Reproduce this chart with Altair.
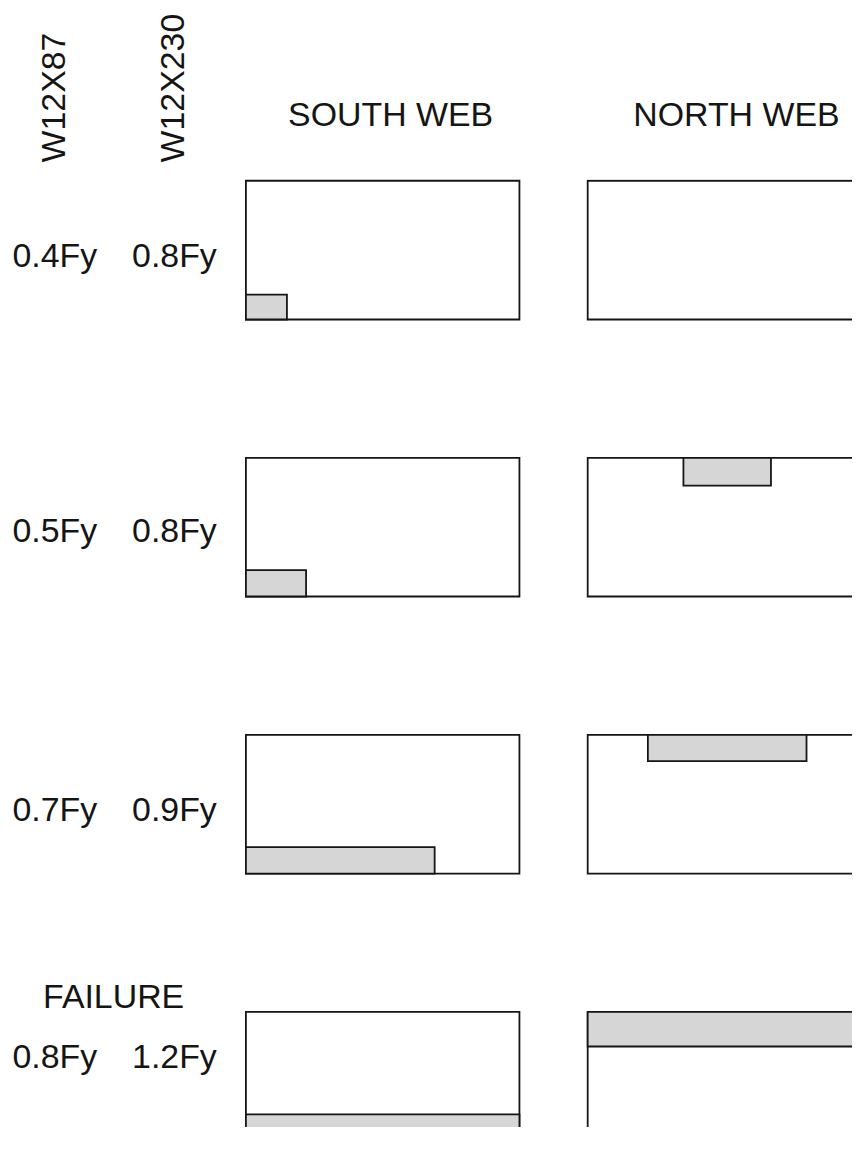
import altair as alt
import pandas as pd

# ---------------- data ----------------
sections = ["W12X87", "W12X230"]
webs = ["SOUTH WEB", "NORTH WEB"]
w12x87_stress = ["0.4Fy", "0.5Fy", "0.7Fy", "0.8Fy"]
w12x230_stress = ["0.8Fy", "0.8Fy", "0.9Fy", "1.2Fy"]
stage_note = ["", "", "", "FAILURE"]

# yielded zones, as fractions of the web width (x, from left) and depth (d, from top)
south_x0 = [0.0, 0.0, 0.0, 0.0]
south_x1 = [0.15, 0.22, 0.69, 1.0]
south_d0 = [0.82, 0.81, 0.81, 0.74]
south_d1 = [1.0, 1.0, 1.0, 1.0]
north_x0 = [None, 0.35, 0.22, 0.0]
north_x1 = [None, 0.67, 0.80, 1.0]
north_d0 = [None, 0.0, 0.0, 0.0]
north_d1 = [None, 0.20, 0.19, 0.25]

# web outline (normalised extents)
web_x = [0.0, 1.0]
web_d = [0.0, 1.0]

# ---------------- tables ----------------
rows = []
for i in range(4):
    rows.append({"row": i, "web": "SOUTH WEB", "x0": south_x0[i], "x1": south_x1[i],
                 "d0": south_d0[i], "d1": south_d1[i]})
    if north_x0[i] is not None:
        rows.append({"row": i, "web": "NORTH WEB", "x0": north_x0[i], "x1": north_x1[i],
                     "d0": north_d0[i], "d1": north_d1[i]})
zones = pd.DataFrame(rows)
outline = pd.DataFrame({"x0": [web_x[0]], "x1": [web_x[1]], "d0": [web_d[0]], "d1": [web_d[1]]})

# ---------------- layout / style ----------------
FONT = "Liberation Sans"
FS = 34
INK = "#151515"
SHADE = "#d6d6d6"
SW = 1.8
GAP = 18                      # column spacing
LABEL_W = 218
BOX_W = 280                   # pixel span of the padded [0,1] web width
SOUTH_W = BOX_W + 45          # extra room to the right of the south web
NORTH_W = 268
ROW_GAP = 136
HEADER_H = 34                 # header row; text drawn below into the gap
ROW_H = [142, 142, 142, 117]  # last row is cut off at the page bottom
PAD = 0.01
UNIT_PX = 142 / (1 + 2 * PAD)
LABEL_Y = [88, 86, 88, 58]


def x_scale(web):
    w = SOUTH_W if web == "SOUTH WEB" else NORTH_W
    return alt.Scale(domain=[-PAD, -PAD + w * (1 + 2 * PAD) / BOX_W], nice=False, zero=False)


def y_scale(i):
    return alt.Scale(domain=[-PAD, -PAD + ROW_H[i] / UNIT_PX], reverse=True, nice=False, zero=False)


def web_panel(i, web):
    clip = (web == "NORTH WEB") or (i == 3)
    xs, ys = x_scale(web), y_scale(i)
    box = alt.Chart(outline).mark_rect(
        fill="white", stroke=INK, strokeWidth=SW, clip=clip
    ).encode(
        x=alt.X("x0:Q", scale=xs, axis=None), x2="x1:Q",
        y=alt.Y("d0:Q", scale=ys, axis=None), y2="d1:Q",
    )
    zone = alt.Chart(zones).transform_filter(
        (alt.datum.row == i) & (alt.datum.web == web)
    ).mark_rect(
        fill=SHADE, stroke=INK, strokeWidth=SW, clip=clip
    ).encode(
        x=alt.X("x0:Q", scale=xs, axis=None), x2="x1:Q",
        y=alt.Y("d0:Q", scale=ys, axis=None), y2="d1:Q",
    )
    w = SOUTH_W if web == "SOUTH WEB" else NORTH_W
    return alt.layer(box, zone).properties(width=w, height=ROW_H[i])


def sec_scale():
    return alt.Scale(type="point", domain=sections, range=[47, 167], padding=0)


def label_panel(i):
    df = pd.DataFrame({"section": sections,
                       "stress": [w12x87_stress[i], w12x230_stress[i]]})
    txt = alt.Chart(df).mark_text(
        font=FONT, fontSize=FS, color=INK, baseline="alphabetic", align="center"
    ).encode(
        x=alt.X("section:N", scale=sec_scale(), axis=None),
        y=alt.value(LABEL_Y[i]),
        text="stress:N",
    )
    layers = [txt]
    if stage_note[i]:
        note = alt.Chart(pd.DataFrame({"note": [stage_note[i]]})).mark_text(
            font=FONT, fontSize=FS, color=INK, baseline="alphabetic", align="center"
        ).encode(x=alt.value(106), y=alt.value(-2), text="note:N")
        layers.append(note)
    return alt.layer(*layers).properties(width=LABEL_W, height=ROW_H[i])


def header_labels():
    df = pd.DataFrame({"section": sections})
    return alt.Chart(df).mark_text(
        font=FONT, fontSize=FS, color=INK, angle=270, align="left", baseline="middle"
    ).encode(
        x=alt.X("section:N", scale=sec_scale(), axis=None),
        y=alt.value(153),
        text="section:N",
    ).properties(width=LABEL_W, height=HEADER_H)


def header_web(web, dx):
    df = pd.DataFrame({"web": [web]})
    return alt.Chart(df).mark_text(
        font=FONT, fontSize=FS, color=INK, align="center", baseline="alphabetic", dx=dx
    ).encode(
        x=alt.X(datum=0.5, scale=x_scale(web), axis=None),
        y=alt.value(116),
        text="web:N",
    ).properties(width=SOUTH_W if web == "SOUTH WEB" else NORTH_W, height=HEADER_H)


panels = [header_labels(), header_web(webs[0], 8), header_web(webs[1], 12)]
for i in range(4):
    panels += [label_panel(i), web_panel(i, webs[0]), web_panel(i, webs[1])]

chart = alt.concat(
    *panels, columns=3, spacing={"row": ROW_GAP, "column": GAP}, bounds="flush"
).resolve_scale(
    x="independent", y="independent"
).properties(padding=0, background="white").configure_view(strokeWidth=0)

chart.save("out.html", embed_options={"renderer": "svg", "actions": False})
